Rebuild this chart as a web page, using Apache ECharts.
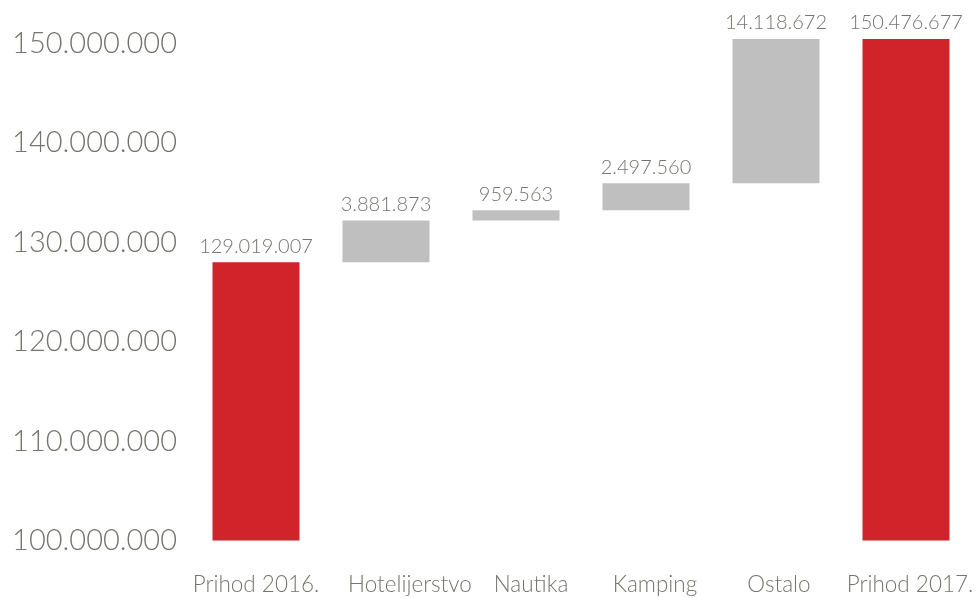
<!DOCTYPE html>
<html>
<head>
<meta charset="utf-8">
<script src="https://cdn.jsdelivr.net/npm/echarts@6/dist/echarts.min.js"></script>
<style>
  html, body { margin: 0; padding: 0; background: #fff; }
  #chart { width: 977px; height: 598px; }
</style>
</head>
<body>
<div id="chart"></div>
<script>
// categories along the x axis
const categories = ['Prihod 2016.', 'Hotelijerstvo', 'Nautika', 'Kamping', 'Ostalo', 'Prihod 2017.']
// totals (red bars), '-' where the column is a step
const totals = [128000000, '-', '-', '-', '-', 150480000]
// invisible base under each step
const stepBase = ['-', 128000000, 132200000, 133250000, 135950000, '-']
// visible height of each step
const stepValues = ['-', 4200000, 1050000, 2700000, 14530000, '-']
// value labels printed above the bars
const valueLabels = ['129.019.007', '3.881.873', '959.563', '2.497.560', '14.118.672', '150.476.677']

const textColor = '#75756f'
const fontFamily = 'Lato, "Open Sans", sans-serif'

// the category labels are nudged to the right, as in the original
const labelShift = [0, 48, 30, 18, 6, 8]

function formatTick(v) {
  // only the 10M steps carry a label
  if (v % 10000000 !== 0) return ''
  return String(Math.round(v)).replace(/\B(?=(\d{3})+(?!\d))/g, '.')
}

const rich = {}
labelShift.forEach((s, i) => {
  rich['c' + i] = { padding: [0, 0, 0, s], color: textColor, fontSize: 22.5, fontFamily, fontWeight: 300 }
})

const chart = echarts.init(document.getElementById('chart'))

const topLabel = {
  show: true,
  position: 'top',
  distance: 6,
  color: textColor,
  fontSize: 20,
  fontWeight: 300,
  fontFamily,
  formatter: p => valueLabels[p.dataIndex],
}

chart.setOption({
  animation: false,
  grid: { left: 191, right: 6, top: 33.8, bottom: 57.5 },
  xAxis: {
    type: 'category',
    data: categories,
    axisLine: { show: false },
    axisTick: { show: false },
    axisLabel: {
      color: textColor,
      fontSize: 22.5,
      fontFamily,
      margin: 33,
      interval: 0,
      formatter: (v, i) => '{c' + i + '|' + v + '}',
      rich,
    },
  },
  yAxis: {
    type: 'value',
    min: 100000000,
    max: 151000000,
    interval: 10000000,
    axisLine: { show: false },
    axisTick: { show: false },
    splitLine: { show: false },
    axisLabel: {
      color: textColor,
      fontSize: 29,
      fontWeight: 300,
      fontFamily,
      margin: 14,
      formatter: formatTick,
    },
  },
  series: [
    {
      name: 'base',
      type: 'bar',
      stack: 'step',
      data: stepBase,
      barWidth: 87,
      itemStyle: { color: 'transparent' },
      silent: true,
    },
    {
      name: 'step',
      type: 'bar',
      stack: 'step',
      data: stepValues,
      barWidth: 87,
      itemStyle: { color: '#bfbfbf' },
      label: topLabel,
    },
    {
      name: 'total',
      type: 'bar',
      data: totals,
      barWidth: 87,
      barGap: '-100%',
      itemStyle: { color: '#d0232a' },
      label: topLabel,
    },
  ],
})
</script>
</body>
</html>
